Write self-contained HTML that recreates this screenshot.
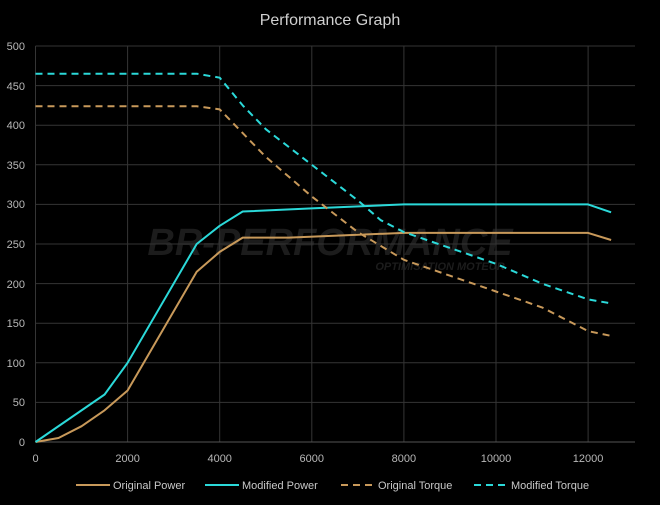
<!DOCTYPE html>
<html><head><style>body{margin:0;background:#000}</style></head><body>
<svg width="660" height="500" xmlns="http://www.w3.org/2000/svg" font-family="Liberation Sans, sans-serif">
<rect width="660" height="500" fill="#000"/>
<text x="330" y="25" fill="#d0d0d0" font-size="16" text-anchor="middle">Performance Graph</text>
<text x="330" y="255" fill="#1c1c1c" font-size="38" font-weight="bold" font-style="italic" text-anchor="middle">BR-PERFORMANCE</text>
<text x="440" y="270" fill="#1c1c1c" font-size="11" font-weight="bold" font-style="italic" text-anchor="middle">OPTIMISATION MOTEUR</text>
<g stroke="#353535" stroke-width="1">
<line x1="35.5" y1="46" x2="635" y2="46"/><line x1="35.5" y1="85.6" x2="635" y2="85.6"/><line x1="35.5" y1="125.2" x2="635" y2="125.2"/><line x1="35.5" y1="164.8" x2="635" y2="164.8"/><line x1="35.5" y1="204.4" x2="635" y2="204.4"/><line x1="35.5" y1="244" x2="635" y2="244"/><line x1="35.5" y1="283.6" x2="635" y2="283.6"/><line x1="35.5" y1="323.2" x2="635" y2="323.2"/><line x1="35.5" y1="362.8" x2="635" y2="362.8"/><line x1="35.5" y1="402.4" x2="635" y2="402.4"/>
<line x1="35.5" y1="46" x2="35.5" y2="442"/><line x1="127.6" y1="46" x2="127.6" y2="442"/><line x1="219.7" y1="46" x2="219.7" y2="442"/><line x1="311.8" y1="46" x2="311.8" y2="442"/><line x1="403.9" y1="46" x2="403.9" y2="442"/><line x1="496" y1="46" x2="496" y2="442"/><line x1="588.1" y1="46" x2="588.1" y2="442"/>
</g>
<line x1="35.5" y1="442" x2="635" y2="442" stroke="#555"/>
<g fill="#b8b8b8" font-size="11" text-anchor="end">
<text x="25" y="50">500</text><text x="25" y="90">450</text><text x="25" y="129">400</text><text x="25" y="169">350</text><text x="25" y="208">300</text><text x="25" y="248">250</text><text x="25" y="288">200</text><text x="25" y="327">150</text><text x="25" y="367">100</text><text x="25" y="406">50</text><text x="25" y="446">0</text>
</g>
<g fill="#b8b8b8" font-size="11" text-anchor="middle">
<text x="35.5" y="462">0</text><text x="127.6" y="462">2000</text><text x="219.7" y="462">4000</text><text x="311.8" y="462">6000</text><text x="403.9" y="462">8000</text><text x="496" y="462">10000</text><text x="588.1" y="462">12000</text>
</g>
<g fill="none" stroke-width="2" stroke-linejoin="round">
<polyline stroke="#c8995a" points="35.5,442 58.5,438 81.6,426.2 104.6,410.3 127.6,390.5 196.7,271.7 219.7,251.9 242.7,237.6 288.8,237.6 403.9,232.9 588.1,232.9 611.1,240"/>
<polyline stroke="#2bd9d9" points="35.5,442 104.6,394.5 127.6,362.8 196.7,244 219.7,225.8 242.7,211.5 311.8,208.4 403.9,204.4 588.1,204.4 611.1,212.3"/>
<polyline stroke="#c8995a" stroke-dasharray="7,5" points="35.5,106.2 196.7,106.2 219.7,109.4 242.7,133.1 265.8,156.9 311.8,196.5 357.8,232.1 403.9,259.8 450,275.7 496,291.5 542,307.4 588.1,331.1 611.1,335.9"/>
<polyline stroke="#2bd9d9" stroke-dasharray="7,5" points="35.5,73.7 196.7,73.7 219.7,77.7 242.7,105.4 265.8,129.2 311.8,164.8 357.8,200.4 380.8,220.2 403.9,232.1 450,248 496,263.8 542,283.6 588.1,299.4 611.1,303.4"/>
</g>
<g font-size="11" fill="#c8c8c8">
<line x1="76" y1="485" x2="110" y2="485" stroke="#c8995a" stroke-width="2"/><text x="113" y="489">Original Power</text>
<line x1="205" y1="485" x2="239" y2="485" stroke="#2bd9d9" stroke-width="2"/><text x="242" y="489">Modified Power</text>
<line x1="341" y1="485" x2="375" y2="485" stroke="#c8995a" stroke-width="2" stroke-dasharray="7,5"/><text x="378" y="489">Original Torque</text>
<line x1="474" y1="485" x2="508" y2="485" stroke="#2bd9d9" stroke-width="2" stroke-dasharray="7,5"/><text x="511" y="489">Modified Torque</text>
</g>
</svg>
</body></html>
